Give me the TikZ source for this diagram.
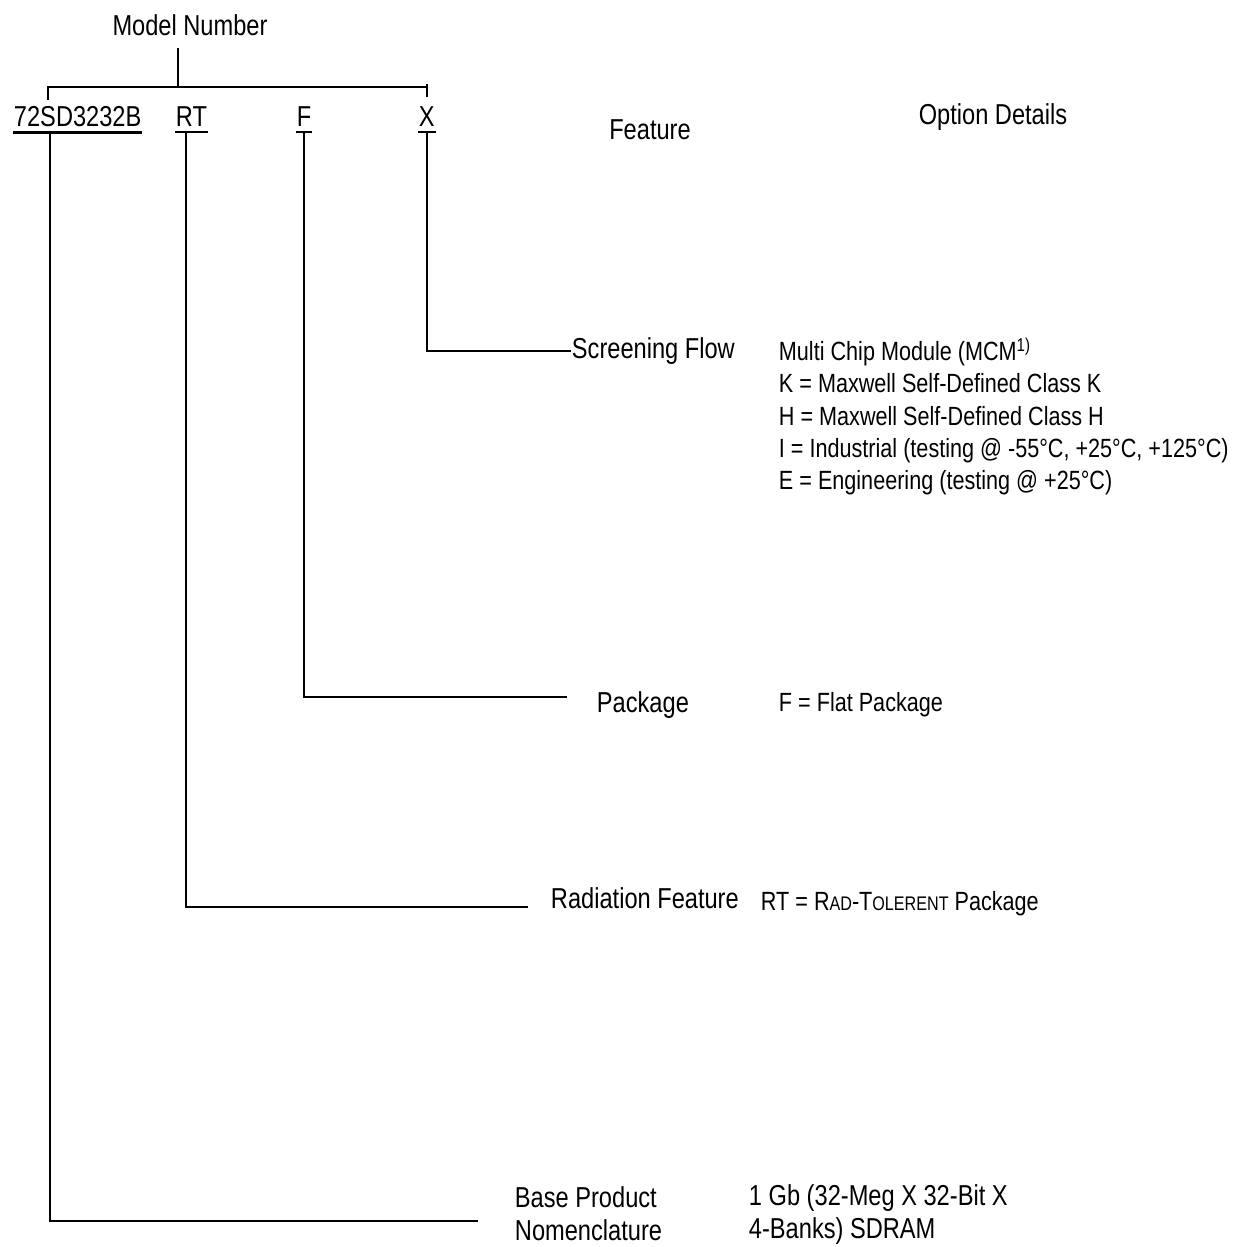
\documentclass[tikz,border=0pt]{standalone}
\usepackage{fontspec}
\setmainfont{Liberation Sans}[FakeStretch=0.82]
\usetikzlibrary{positioning}

\tikzset{
  big/.style={inner sep=0pt, font=\fontsize{16.4}{18.7}\selectfont},
  small/.style={inner sep=0pt, font=\fontsize{15}{18.4}\selectfont},
  code/.style={big, anchor=base west, inner xsep=0pt, inner ysep=2.3pt},
}
\newcommand{\smcaps}[1]{{\fontsize{11.2}{12}\selectfont #1}}

\begin{document}
\begin{tikzpicture}[x=0.02cm, y=-0.02cm, line width=1.1pt]
  \useasboundingbox (0,0) rectangle (1243,1247);

  % headings
  \node[big] (model) at (190,25) {Model Number};
  \node[big] (feat) at (650,130) {Feature};
  \node[big] (opt) at (993,117) {Option Details};

  % fields of the model number
  \node[code] (base) at (13,127) {72SD3232B};
  \node[code] (rad) at (175,127) {RT};
  \node[code] (pkg) at (296,127) {F};
  \node[code] (scr) at (418,127) {X};
  \foreach \n in {base,rad,pkg,scr}
    \draw[line width=1.6pt] (\n.south west) -- (\n.south east);

  % bracket
  \coordinate (brtop) at (178,48);
  \coordinate (brmid) at (178,87);
  \draw (brtop) -- (brmid);
  \draw (48,100) -- (48,87) -- (427,87);
  \draw (427,84) -- (427,97);

  % features and options
  \node[big, anchor=base west] (scrlbl) at (571,358) {Screening Flow};
  \node[small, anchor=north west, align=left] (scrtxt) at (778,337)
    {Multi Chip Module (MCM\textsuperscript{1)}\\
     K = Maxwell Self-Defined Class K\\
     H = Maxwell Self-Defined Class H\\
     I = Industrial (testing @ -55°C, +25°C, +125°C)\\
     E = Engineering (testing @ +25°C)};

  \node[big, anchor=base west] (pkglbl) at (596,712) {Package};
  \node[small, anchor=base west] (pkgtxt) at (778,711) {F = Flat Package};

  \node[big, anchor=base west] (radlbl) at (550,908) {Radiation Feature};
  \node[small, anchor=base west] (radtxt) at (760,910)
    {RT = R\smcaps{AD}-T\smcaps{OLERENT} Package};

  \node[big, anchor=north west, align=left] (baselbl) at (514,1186)
    {Base Product\\Nomenclature};
  \node[big, anchor=north west, align=left] (basetxt) at (748,1184)
    {1 Gb (32-Meg X 32-Bit X\\4-Banks) SDRAM};

  % branches
  \coordinate (pkgend) at (567,697);
  \coordinate (radfoot) at (186,907);
  \coordinate (radend) at (528,907);
  \coordinate (basefoot) at (50,1221);
  \coordinate (baseend) at (478,1221);

  \draw (scr.south) |- (scrlbl.west);
  \draw (pkg.south) |- (pkgend);
  \draw (rad.south -| radfoot) -- (radfoot) -- (radend);
  \draw (base.south -| basefoot) -- (basefoot) -- (baseend);
\end{tikzpicture}
\end{document}
